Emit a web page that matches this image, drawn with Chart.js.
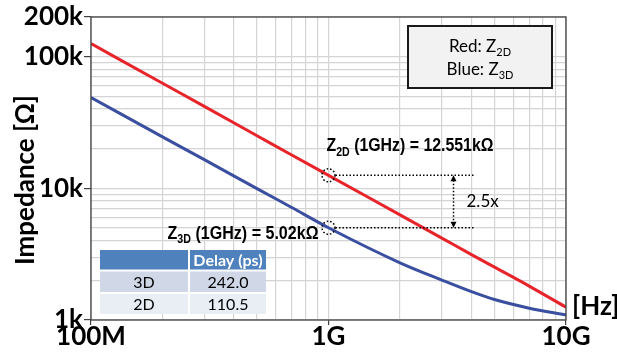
<!DOCTYPE html>
<html>
<head>
<meta charset="utf-8">
<script src="https://cdn.jsdelivr.net/npm/chart.js@4.4.1/dist/chart.umd.min.js"></script>
<style>
  html, body {margin: 0; padding: 0; background: #fff}
  #wrap {width: 617px; height: 354px}
</style>
</head>
<body>
<div id="wrap"><canvas id="impedance" width="617" height="354"></canvas></div>
<script>
// frequency in Hz, impedance in ohm
const freqHz = [1e8, 2e8, 3e8, 5e8, 7e8, 1e9, 2e9, 3e9, 4e9, 5e9, 7e9, 1e10]
const z2d = [125500, 62800, 41900, 25100, 17900, 12551, 6280, 4190, 3140, 2520, 1810, 1250]
const z3d = [48900, 24600, 16500, 9950, 7150, 5020, 2720, 2010, 1640, 1430, 1230, 1090]

const xMajor = [1e8, 1e9, 1e10]
const xLabels = ['100M', '1G', '10G']
const yMajor = [1e3, 1e4, 1e5, 2e5]
const yLabels = ['1k', '10k', '100k', '200k']

const delayHead = ['', 'Delay (ps)']
const delayRows = [['3D', '242.0'], ['2D', '110.5']]

const markFreq = 1e9
const mark2d = 12551
const mark3d = 5020

// minor grid: 1..9 per decade
const xTicks = []
for (const d of [1e8, 1e9]) for (let k = 1; k <= 9; k++) xTicks.push(k * d)
xTicks.push(1e10)
const yTicks = []
for (const d of [1e3, 1e4]) for (let k = 1; k <= 9; k++) yTicks.push(k * d)
yTicks.push(1e5, 2e5)

const AXIS = '#404040'
const GRID = '#d4d4d4'
const tickFont = {family: 'Lato', weight: 'bold', size: 26, lineHeight: 1}

function drawRich(ctx, parts, x, y, opt) {
  const main = `${opt.weight} ${opt.size}px ${opt.family}`
  const sub = `${opt.weight} ${Math.round(opt.size * 0.66)}px ${opt.family}`
  let w = 0
  parts.forEach(p => { ctx.font = p.sub ? sub : main; w += ctx.measureText(p.t).width })
  const sx = opt.width ? opt.width / w : 1
  let cx = opt.align === 'center' ? x - w * sx / 2 : x
  ctx.save()
  ctx.textBaseline = 'alphabetic'
  ctx.textAlign = 'left'
  ctx.fillStyle = opt.color || '#000'
  parts.forEach(p => {
    ctx.font = p.sub ? sub : main
    const pw = ctx.measureText(p.t).width
    ctx.save()
    ctx.translate(cx, y + (p.sub ? opt.size * 0.24 : 0))
    ctx.scale(sx, 1)
    ctx.fillText(p.t, 0, 0)
    ctx.restore()
    cx += pw * sx
  })
  ctx.restore()
}

const overlay = {
  id: 'overlay',
  afterDraw(chart) {
    const {ctx, chartArea: a, scales: {x, y}} = chart
    ctx.save()

    // frame
    ctx.strokeStyle = AXIS
    ctx.lineWidth = 1.3
    ctx.strokeRect(a.left, a.top, a.right - a.left, a.bottom - a.top)

    // axis titles
    ctx.fillStyle = '#000'
    ctx.font = 'bold 26px Lato'
    ctx.textAlign = 'center'
    ctx.textBaseline = 'middle'
    ctx.save()
    ctx.translate(26, 180)
    ctx.rotate(-Math.PI / 2)
    ctx.fillText('Impedance [Ω]', 0, 0)
    ctx.restore()
    ctx.textAlign = 'left'
    ctx.fillText('[Hz]', a.right + 6, 307)

    // markers at 1 GHz
    const mx = x.getPixelForValue(markFreq)
    const y2 = y.getPixelForValue(mark2d)
    const y3 = y.getPixelForValue(mark3d)
    const xEnd = x.getPixelForValue(4.1e9)
    const xArr = x.getPixelForValue(3.36e9)
    ctx.strokeStyle = '#000'
    ctx.lineWidth = 1.5
    ctx.setLineDash([1.5, 2])
    for (const cy of [y2, y3]) {
      ctx.beginPath(); ctx.arc(mx, cy, 6.5, 0, Math.PI * 2); ctx.stroke()
      ctx.beginPath(); ctx.moveTo(mx + 7, cy); ctx.lineTo(xEnd, cy); ctx.stroke()
    }
    ctx.beginPath(); ctx.moveTo(xArr, y2 + 5); ctx.lineTo(xArr, y3 - 5); ctx.stroke()
    ctx.setLineDash([])
    ctx.fillStyle = '#000'
    ctx.beginPath(); ctx.moveTo(xArr, y2); ctx.lineTo(xArr - 3, y2 + 6); ctx.lineTo(xArr + 3, y2 + 6); ctx.fill()
    ctx.beginPath(); ctx.moveTo(xArr, y3); ctx.lineTo(xArr - 3, y3 - 6); ctx.lineTo(xArr + 3, y3 - 6); ctx.fill()

    ctx.font = '17px Lato'
    ctx.textAlign = 'left'
    ctx.textBaseline = 'middle'
    ctx.fillText('2.5x', xArr + 13, (y2 + y3) / 2)

    const bold = {weight: 'bold', size: 18, family: '"Liberation Sans"'}
    drawRich(ctx, [{t: 'Z'}, {t: '2D', sub: true}, {t: ' (1GHz) = 12.551kΩ'}], mx - 2, y2 - 24, {...bold, width: 167})
    drawRich(ctx, [{t: 'Z'}, {t: '3D', sub: true}, {t: ' (1GHz) = 5.02kΩ'}], mx - 161, y3 + 11, {...bold, width: 151})

    // legend box
    ctx.fillStyle = '#f2f2f2'
    ctx.fillRect(408, 26, 144, 62)
    ctx.strokeStyle = '#1a1a1a'
    ctx.lineWidth = 2
    ctx.strokeRect(408, 26, 144, 62)
    const reg = {weight: 'normal', size: 17, family: 'Lato'}
    drawRich(ctx, [{t: 'Red: Z'}, {t: '2D', sub: true}], 480, 52, {...reg, align: 'center'})
    drawRich(ctx, [{t: 'Blue: Z'}, {t: '3D', sub: true}], 480, 75, {...reg, align: 'center'})

    // delay table
    const cols = [[100, 88], [190, 76]]
    const rows = [[250, 19.5, '#4f81bd'], [271.5, 20.5, '#d0d8e8'], [294, 20, '#e9edf4']]
    ctx.fillStyle = '#fff'
    ctx.fillRect(100, 250, 166, 64)
    const table = [delayHead, ...delayRows]
    rows.forEach(([ry, rh, fill], r) => {
      cols.forEach(([cx, cw], c) => {
        ctx.fillStyle = fill
        ctx.fillRect(cx, ry, cw, rh)
        ctx.fillStyle = r === 0 ? '#fff' : '#000'
        ctx.font = (r === 0 ? 'bold ' : '') + '16px Lato'
        ctx.textAlign = 'center'
        ctx.textBaseline = 'middle'
        ctx.fillText(table[r][c], cx + cw / 2, ry + rh / 2 + 1)
      })
    })
    ctx.restore()
  }
}

new Chart(document.getElementById('impedance'), {
  type: 'line',
  data: {
    datasets: [
      {data: freqHz.map((f, i) => ({x: f, y: z2d[i]})), borderColor: '#e8242b'},
      {data: freqHz.map((f, i) => ({x: f, y: z3d[i]})), borderColor: '#3a4fa0'},
    ],
  },
  options: {
    responsive: false,
    animation: false,
    borderWidth: 3,
    pointRadius: 0,
    cubicInterpolationMode: 'monotone',
    layout: {padding: {top: 17, right: 51, left: 0, bottom: 0}},
    plugins: {legend: {display: false}, tooltip: {enabled: false}},
    scales: {
      x: {
        type: 'logarithmic',
        min: 1e8,
        max: 1e10,
        afterFit: s => { s.height = 34 },
        afterBuildTicks: s => { s.ticks = xTicks.map(v => ({value: v})) },
        border: {display: false},
        grid: {
          color: GRID,
          lineWidth: 1.2,
          tickLength: 5,
          tickColor: c => xMajor.includes(c.tick && c.tick.value) ? AXIS : 'rgba(0,0,0,0)',
        },
        ticks: {
          autoSkip: false,
          maxRotation: 0,
          padding: -1,
          color: '#000',
          font: tickFont,
          callback: v => { const i = xMajor.indexOf(v); return i < 0 ? '' : xLabels[i] },
        },
      },
      y: {
        type: 'logarithmic',
        min: 1e3,
        max: 2e5,
        afterFit: s => { s.width = 91 },
        afterBuildTicks: s => { s.ticks = yTicks.map(v => ({value: v})) },
        border: {display: false},
        grid: {
          color: GRID,
          lineWidth: 1.2,
          tickLength: 7,
          tickColor: c => yMajor.includes(c.tick && c.tick.value) ? AXIS : 'rgba(0,0,0,0)',
        },
        ticks: {
          autoSkip: false,
          padding: 1,
          color: '#000',
          font: tickFont,
          callback: v => { const i = yMajor.indexOf(v); return i < 0 ? '' : yLabels[i] },
        },
      },
    },
  },
  plugins: [overlay],
})
</script>
</body>
</html>
